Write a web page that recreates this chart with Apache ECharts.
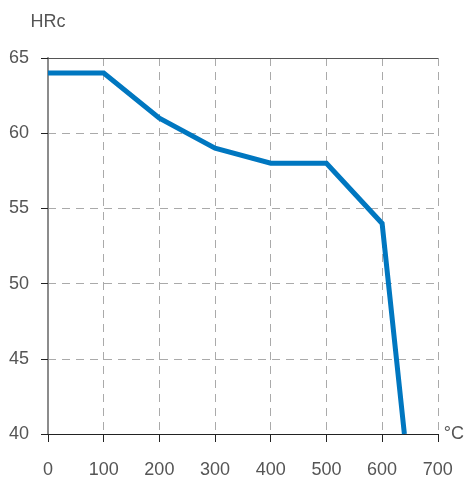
<!DOCTYPE html>
<html>
<head>
<meta charset="utf-8">
<script src="https://cdn.jsdelivr.net/npm/echarts@6/dist/echarts.min.js"></script>
<style>
  html, body { margin: 0; padding: 0; background: #fff; }
  #main { width: 467px; height: 480px; }
</style>
</head>
<body>
<div id="main"></div>
<script>
// data
var temps = [0, 100, 200, 300, 400, 500, 600, 640];
var hardness = [64, 64, 61, 59, 58, 58, 54, 40];

var font = 'Liberation Sans, Arial, sans-serif';
var textCol = '#555';

var chart = echarts.init(document.getElementById('main'));

var option = {
  animation: false,
  grid: { left: 48, right: 26, top: 58, bottom: 46 },
  xAxis: [{
    type: 'value',
    min: 0, max: 700, interval: 100,
    name: '°C',
    nameLocation: 'end',
    nameGap: 6,
    nameTextStyle: { color: textCol, fontSize: 18, fontFamily: font, align: 'left', verticalAlign: 'middle' },
    axisLine: { show: true, onZero: false, lineStyle: { color: '#222', width: 1 } },
    axisTick: { show: true, length: 8, lineStyle: { color: '#222' } },
    axisLabel: { color: textCol, fontSize: 18, fontFamily: font, margin: 27 },
    splitLine: { show: true, lineStyle: { color: '#aaa', type: [8, 6], width: 1 } }
  }, {
    type: 'value',
    position: 'top',
    min: 0, max: 700,
    axisLine: { show: true, lineStyle: { color: '#555', width: 1 } },
    axisTick: { show: false },
    axisLabel: { show: false },
    splitLine: { show: false }
  }],
  yAxis: [{
    type: 'value',
    min: 40, max: 65, interval: 5,
    name: 'HRc',
    nameLocation: 'end',
    nameGap: 36,
    nameTextStyle: { color: textCol, fontSize: 18, fontFamily: font, align: 'center', verticalAlign: 'middle' },
    axisLine: { show: true, lineStyle: { color: '#999', width: 2 } },
    axisTick: { show: true, length: 7, lineStyle: { color: '#222' } },
    axisLabel: { color: textCol, fontSize: 18, fontFamily: font, margin: 19 },
    splitLine: { show: true, lineStyle: { color: '#aaa', type: [8, 6], width: 1 } }
  }, {
    type: 'value',
    position: 'right',
    min: 40, max: 65,
    axisLine: { show: true, lineStyle: { color: '#888', width: 1.5 } },
    axisTick: { show: false },
    axisLabel: { show: false },
    splitLine: { show: false }
  }],
  series: [{
    type: 'line',
    data: temps.map(function (t, i) { return [t, hardness[i]]; }),
    symbol: 'none',
    lineStyle: { color: '#0077c0', width: 5, join: 'miter' },
    z: 5
  }]
};

chart.setOption(option);
</script>
</body>
</html>
